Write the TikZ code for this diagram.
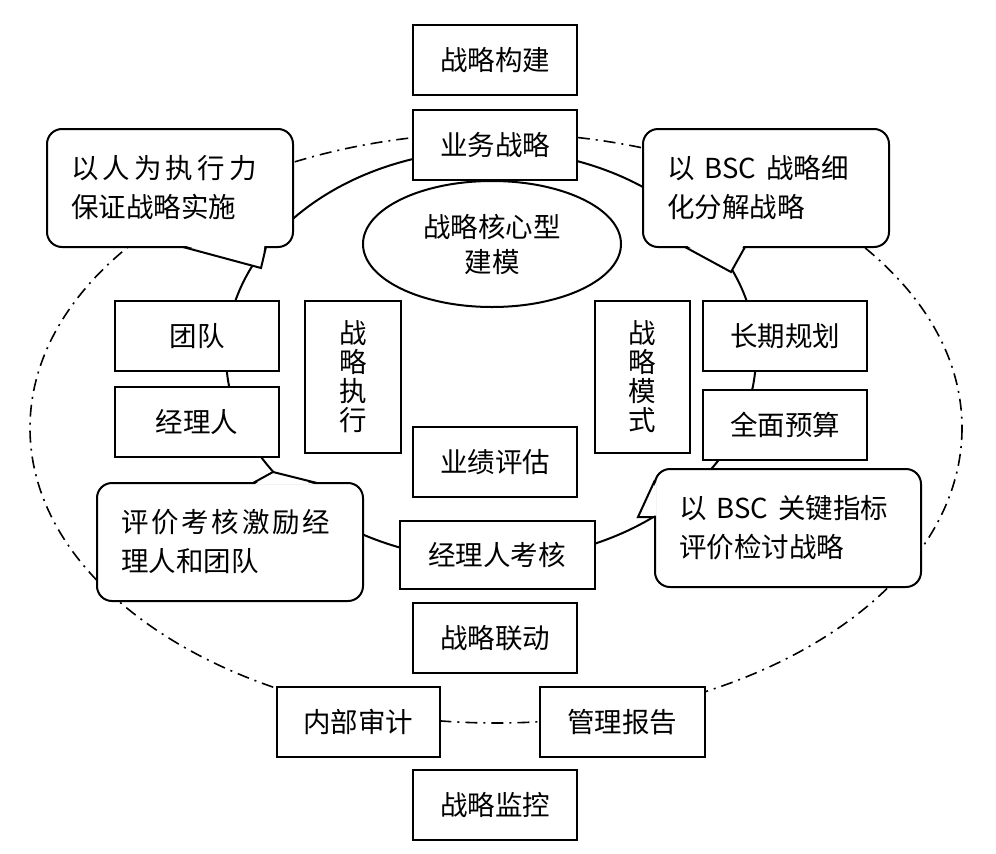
\documentclass[tikz,border=0pt]{standalone}
\usepackage{fontspec}
\setmainfont{Noto Sans CJK SC}
\usepackage{tikz}
\usetikzlibrary{shapes.geometric}
\usetikzlibrary{positioning}
\usetikzlibrary{calc}

\tikzset{
  caja/.style={draw, fill=white, line width=2pt, minimum width=164pt, minimum height=70pt, inner sep=0pt, font=\fontsize{27.5}{30}\selectfont},
  vertical/.style={caja, minimum width=96pt, minimum height=152pt, align=center, font=\fontsize{27.5}{29}\selectfont},
  globo/.style={draw, fill=white, line width=2pt, rounded corners=15pt, outer sep=0pt, minimum height=118pt, inner xsep=24pt, align=left, font=\fontsize{27.5}{39}\selectfont},
  anillo/.style={line width=2pt},
  contorno/.style={line width=1.6pt, dash pattern=on 12pt off 6pt on 2pt off 6pt},
}

\begin{document}
\begin{tikzpicture}[x=1pt, y=-1pt]
  \useasboundingbox (0,0) rectangle (996,854);

  % Anillos
  \coordinate (centroext) at (496,428);
  \coordinate (centro) at (491,355);
  \draw[contorno] (centroext) ellipse [x radius=466, y radius=295];
  \draw[anillo] (centro) ellipse [x radius=265, y radius=205];

  % Columna central
  \node[caja] (construir) at (495,60) {战略构建};
  \node[caja, below=13pt of construir] (negocio) {业务战略};
  \node[ellipse, draw, fill=white, line width=2pt, minimum width=258pt, minimum height=126pt, inner sep=0pt, align=center, font=\fontsize{27.5}{35}\selectfont] (nucleo) at (492,244) {战略核心型\\建模};
  \node[caja] (evaluar) at (495,462) {业绩评估};
  \node[caja, minimum width=195pt, minimum height=68pt] (examen) at (497,555) {经理人考核};
  \node[caja] (enlace) at (495,638) {战略联动};
  \node[caja, minimum width=163pt] (auditoria) at (358,722) {内部审计};
  \node[caja, minimum width=165pt] (informe) at (622,722) {管理报告};
  \node[caja] (monitor) at (495,805) {战略监控};

  % Lado izquierdo
  \node[caja] (equipo) at (197,336) {团队};
  \node[caja, below=14pt of equipo] (gerente) {经理人};
  \node[vertical] (ejecucion) at (353,377) {战\\略\\执\\行};

  % Lado derecho
  \node[vertical, minimum width=95pt] (modelo) at (642,377) {战\\略\\模\\式};
  \node[caja] (largo) at (785,336) {长期规划};
  \node[caja, below=17pt of largo] (presupuesto) {全面预算};

  % Globos
  \node[globo, text width=198pt] (izqarr) at (170,188) {{\addfontfeatures{LetterSpace=15}以人为执行力}\\保证战略实施};
  \node[globo, text width=198pt] (derarr) at (766,188) {以\hspace{10pt}BSC\hspace{10pt}战略细\\化分解战略};
  \node[globo, text width=218pt] (izqab) at (230,542) {{\addfontfeatures{LetterSpace=10}评价考核激励经}\\理人和团队};
  \node[globo, text width=218pt] (derab) at (788,528) {以\hspace{10pt}BSC\hspace{10pt}关键指标\\评价检讨战略};

  % Puntas de los globos
  \coordinate (p1) at ($(izqarr.south west)+(136,0)$);
  \coordinate (q1) at ($(izqarr.south east)+(-27,0)$);
  \coordinate (t1) at (261,268);
  \coordinate (p2) at ($(derarr.south west)+(42,0)$);
  \coordinate (q2) at ($(derarr.south west)+(102,0)$);
  \coordinate (t2) at (731,272);
  \coordinate (p3) at ($(izqab.north west)+(156,0)$);
  \coordinate (q3) at ($(izqab.north west)+(220,0)$);
  \coordinate (t3) at (273,472);
  \coordinate (p4) at ($(derab.north west)+(0,11)$);
  \coordinate (q4) at ($(derab.north west)+(0,48)$);
  \coordinate (t4) at (638,517);

  \fill[white] ($(p1)+(1.5,-1.5)$) -- (t1) -- ($(q1)+(-1.5,-1.5)$) -- cycle;
  \fill[white] ($(p2)+(1.5,-1.5)$) -- (t2) -- ($(q2)+(-1.5,-1.5)$) -- cycle;
  \fill[white] ($(p3)+(1.5,1.5)$) -- (t3) -- ($(q3)+(-1.5,1.5)$) -- cycle;
  \fill[white] ($(p4)+(1.5,1.5)$) -- (t4) -- ($(q4)+(1.5,-1.5)$) -- cycle;

  \draw[line width=2pt] (p1) -- (t1) -- (q1);
  \draw[line width=2pt] (p2) -- (t2) -- (q2);
  \draw[line width=2pt] (p3) -- (t3) -- (q3);
  \draw[line width=2pt] (p4) -- (t4) -- (q4);
\end{tikzpicture}
\end{document}
